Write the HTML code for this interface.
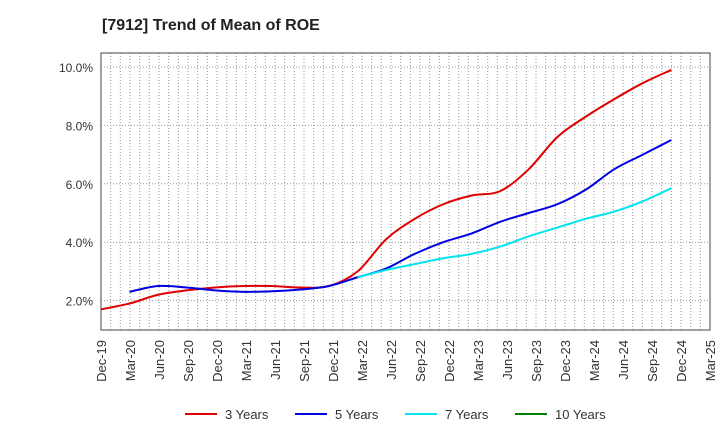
<!DOCTYPE html>
<html><head><meta charset="utf-8"><style>
body{margin:0;background:#fff;font-family:"Liberation Sans",sans-serif}
</style></head><body>
<svg width="720" height="440" xmlns="http://www.w3.org/2000/svg">
<text x="102" y="30" font-size="16" font-weight="bold" fill="#222">[7912]  Trend of Mean of ROE</text>
<g id="grid"></g><g id="axes"></g><g id="series"></g><g id="legend"></g>
</svg>
<script>
const categories=["Dec-19","Mar-20","Jun-20","Sep-20","Dec-20","Mar-21","Jun-21","Sep-21","Dec-21","Mar-22","Jun-22","Sep-22","Dec-22","Mar-23","Jun-23","Sep-23","Dec-23","Mar-24","Jun-24","Sep-24","Dec-24","Mar-25"];
const yTicks=[2,4,6,8,10];
const s3=[1.7,1.9,2.2,2.35,2.45,2.5,2.5,2.45,2.5,3.0,4.1,4.8,5.3,5.6,5.75,6.5,7.6,8.3,8.9,9.45,9.9];
const s5=[null,2.3,2.5,2.45,2.35,2.3,2.32,2.38,2.5,2.8,3.1,3.6,4.0,4.3,4.7,5.0,5.3,5.8,6.5,7.0,7.5];
const s7=[null,null,null,null,null,null,null,null,null,2.8,3.05,3.25,3.45,3.6,3.85,4.2,4.5,4.8,5.05,5.4,5.85];
const s10=[];
const NS="http://www.w3.org/2000/svg";
const L=101,R=710,T=53,B=330;
const x=i=>L+i*(R-L)/(categories.length-1);
const xs=i=>x(i*59/60);
const y=v=>359-v*29.2;
function mk(tag,attrs,parent){const e=document.createElementNS(NS,tag);for(const k in attrs)e.setAttribute(k,attrs[k]);parent.appendChild(e);return e;}
const grid=document.getElementById('grid'),axes=document.getElementById('axes'),ser=document.getElementById('series'),leg=document.getElementById('legend');
for(let m=1;m<(categories.length-1)*3;m++){const xx=L+m*(R-L)/((categories.length-1)*3);
const g=mk('line',{x1:xx,x2:xx,y1:T,y2:B,stroke:'#999','stroke-dasharray':'1,2','stroke-width':1},grid);

}
yTicks.forEach(v=>{const g=mk('line',{x1:L,x2:R,y1:y(v),y2:y(v),stroke:'#999','stroke-dasharray':'1,2'},grid);


const t=mk('text',{x:L-8,y:y(v)+5,'text-anchor':'end','font-size':12,fill:'#333'},axes);t.textContent=v.toFixed(1)+'%';

});
const fr=mk('rect',{x:L,y:T,width:R-L,height:B-T,fill:'none',stroke:'#444'},axes);


categories.forEach((c,i)=>{const t=mk('text',{transform:`translate(${x(i)+5},${B+10}) rotate(-90)`,'text-anchor':'end','font-size':13,fill:'#333'},axes);t.textContent=c;

});
function path(arr){const p=[];arr.forEach((v,i)=>{if(v!=null)p.push([xs(i),y(v)]);});if(!p.length)return '';
let d=`M${p[0][0]},${p[0][1]}`;for(let i=0;i<p.length-1;i++){const p0=p[i-1]||p[i],p1=p[i],p2=p[i+1],p3=p[i+2]||p2;
d+=` C${p1[0]+(p2[0]-p0[0])/6},${p1[1]+(p2[1]-p0[1])/6} ${p2[0]-(p3[0]-p1[0])/6},${p2[1]-(p3[1]-p1[1])/6} ${p2[0]},${p2[1]}`;}return d;}
const series=[["3 Years",s3,"#e00000"],["5 Years",s5,"#0000e0"],["7 Years",s7,"#00e5ee"],["10 Years",s10,"#008000"]];
const lx=[185,295,405,515];
series.forEach((s,k)=>{const d=path(s[1]);if(d){const p=mk('path',{d:d,fill:'none',stroke:s[2],'stroke-width':2},ser);

}
const l=mk('line',{x1:lx[k],x2:lx[k]+32,y1:414,y2:414,stroke:s[2],'stroke-width':2},leg);


const t=mk('text',{x:lx[k]+40,y:419,'font-size':13,fill:'#333'},leg);t.textContent=s[0];

});
</script>
</body></html>
